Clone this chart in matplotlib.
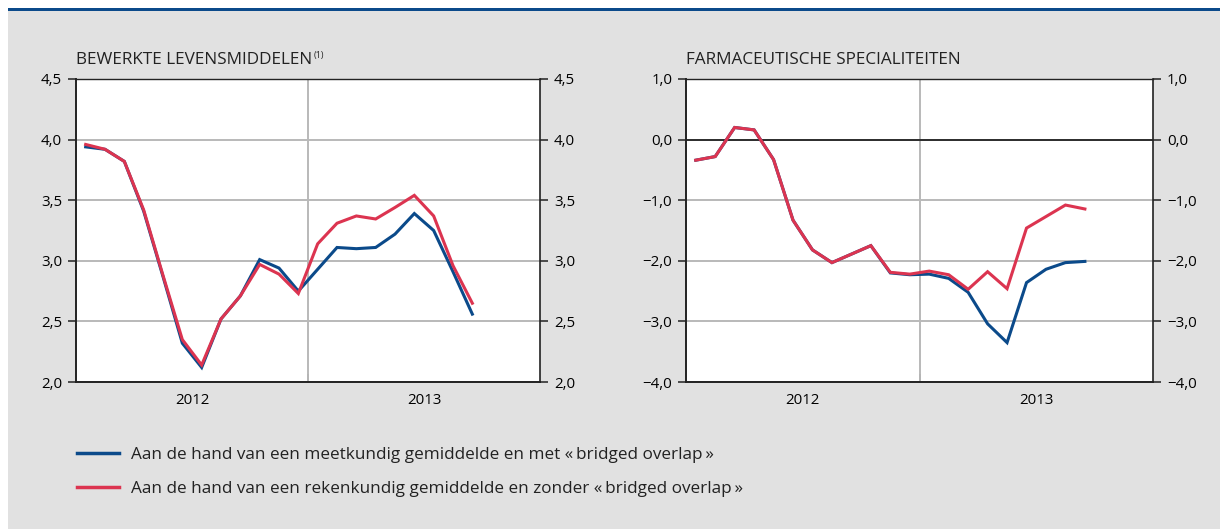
import matplotlib
matplotlib.use("Agg")
import matplotlib.pyplot as plt
from matplotlib.patches import Rectangle
from matplotlib.lines import Line2D
from matplotlib.ticker import FuncFormatter

# monthly observations, Jan 2012 .. Sep 2013
months = list(range(21))

# Bewerkte levensmiddelen
food_geo = [3.94, 3.92, 3.82, 3.41, 2.87, 2.32, 2.12, 2.52, 2.71, 3.01, 2.94, 2.75,
            2.93, 3.11, 3.10, 3.11, 3.22, 3.39, 3.25, 2.91, 2.56]
food_ari = [3.96, 3.92, 3.82, 3.42, 2.88, 2.35, 2.14, 2.52, 2.71, 2.97, 2.89, 2.73,
            3.14, 3.31, 3.37, 3.345, 3.44, 3.54, 3.37, 2.96, 2.65]

# Farmaceutische specialiteiten
pharma_geo = [-0.34, -0.28, 0.20, 0.16, -0.33, -1.33, -1.82, -2.03, -1.89, -1.75, -2.20, -2.23,
              -2.22, -2.29, -2.52, -3.04, -3.35, -2.36, -2.14, -2.03, -2.01]
pharma_ari = [-0.34, -0.28, 0.20, 0.16, -0.33, -1.33, -1.82, -2.03, -1.89, -1.75, -2.19, -2.22,
              -2.17, -2.23, -2.47, -2.18, -2.46, -1.46, -1.27, -1.08, -1.145]

years = ['2012', '2013']
titles = ['BEWERKTE LEVENSMIDDELEN', 'FARMACEUTISCHE SPECIALITEITEN']
legend_labels = ['Aan de hand van een meetkundig gemiddelde en met «\u2009bridged overlap\u2009»',
                 'Aan de hand van een rekenkundig gemiddelde en zonder «\u2009bridged overlap\u2009»']

BLUE = '#0b4a8a'
RED = '#dc3450'
BG = '#e1e1e1'
GRID = '#b9b9b9'

plt.rcParams['font.family'] = ['Open Sans', 'DejaVu Sans']
plt.rcParams['text.color'] = '#222222'

fig = plt.figure(figsize=(12.2, 5.29), dpi=100)
fig.patch.set_facecolor('white')
# grey panel with a blue rule on top
fig.patches.append(Rectangle((8 / 1220, 0), 1, 1 - 10 / 529, transform=fig.transFigure,
                             facecolor=BG, edgecolor='none', zorder=-10))
fig.patches.append(Rectangle((8 / 1220, 1 - 10.5 / 529), 1, 2.5 / 529, transform=fig.transFigure,
                             facecolor='#0b4a8a', edgecolor='none', zorder=-9))


def fmt(v, pos):
    s = '%.1f' % v
    s = s.replace('.', ',').replace('-', '\u2212')
    if s == '\u22120,0':
        s = '0,0'
    return s


def setup(ax, ylim, yticks, title, sup):
    ax.set_facecolor('white')
    ax.set_xlim(-0.5, 23.5)
    ax.set_ylim(*ylim)
    ax.set_yticks(yticks)
    ax.yaxis.set_major_formatter(FuncFormatter(fmt))
    ax.grid(axis='y', color=GRID, linewidth=1.4, zorder=1)
    ax.axvline(11.5, color=GRID, linewidth=1.4, zorder=1)
    ax.set_axisbelow(True)
    # year divider tick
    ax.set_xticks([11.5])
    ax.set_xticklabels([''])
    ax.tick_params(axis='x', which='major', direction='in', length=6, width=1.3, color='#222222')
    ax.set_xticks([5.5, 17.5], minor=True)
    ax.set_xticklabels(years, minor=True)
    ax.tick_params(axis='x', which='minor', length=0, pad=8, labelsize=10.8)
    ax.tick_params(axis='y', which='both', direction='out', length=6, width=1.1, color='#222222',
                   labelsize=10.8, pad=4, left=True, right=True, labelleft=True, labelright=True)
    for side in ['left', 'right', 'bottom', 'top']:
        ax.spines[side].set_color('#222222')
    ax.spines['left'].set_linewidth(1.4)
    ax.spines['bottom'].set_linewidth(1.4)
    ax.spines['right'].set_linewidth(1.2)
    ax.spines['top'].set_linewidth(1.0)
    t = ax.text(0, 1.035, title, transform=ax.transAxes, fontsize=12.3, ha='left', va='bottom')
    if sup:
        fig.canvas.draw()
        bb = t.get_window_extent()
        x1 = ax.transAxes.inverted().transform((bb.x1, bb.y1))
        ax.text(x1[0] + 0.004, x1[1] + 0.006, sup, transform=ax.transAxes, fontsize=6.5,
                ha='left', va='top')


ax1 = fig.add_axes([76 / 1220, 1 - 382 / 529, 464 / 1220, 303 / 529])
ax2 = fig.add_axes([686 / 1220, 1 - 382 / 529, 467 / 1220, 303 / 529])

setup(ax1, (2.0, 4.5), [2.0, 2.5, 3.0, 3.5, 4.0, 4.5], titles[0], '(1)')
setup(ax2, (-4.0, 1.0), [-4.0, -3.0, -2.0, -1.0, 0.0, 1.0], titles[1], None)
ax2.axhline(0, color='#222222', linewidth=1.3, zorder=2)

ax1.plot(months, food_geo, color=BLUE, linewidth=2.2, zorder=3, solid_joinstyle='miter')
ax1.plot(months, food_ari, color=RED, linewidth=2.2, zorder=4, solid_joinstyle='miter')
ax2.plot(months, pharma_geo, color=BLUE, linewidth=2.2, zorder=3, solid_joinstyle='miter')
ax2.plot(months, pharma_ari, color=RED, linewidth=2.2, zorder=4, solid_joinstyle='miter')

# legend below the charts
handles = [Line2D([], [], color=BLUE, linewidth=2.5), Line2D([], [], color=RED, linewidth=2.5)]
fig.legend(handles, legend_labels, loc='upper left', bbox_to_anchor=(62 / 1220, 1 - 432 / 529),
           frameon=False, fontsize=12.35, handlelength=2.45, handletextpad=0.7, labelspacing=1.0)

fig.savefig('out.png', dpi=100, facecolor=fig.get_facecolor())
